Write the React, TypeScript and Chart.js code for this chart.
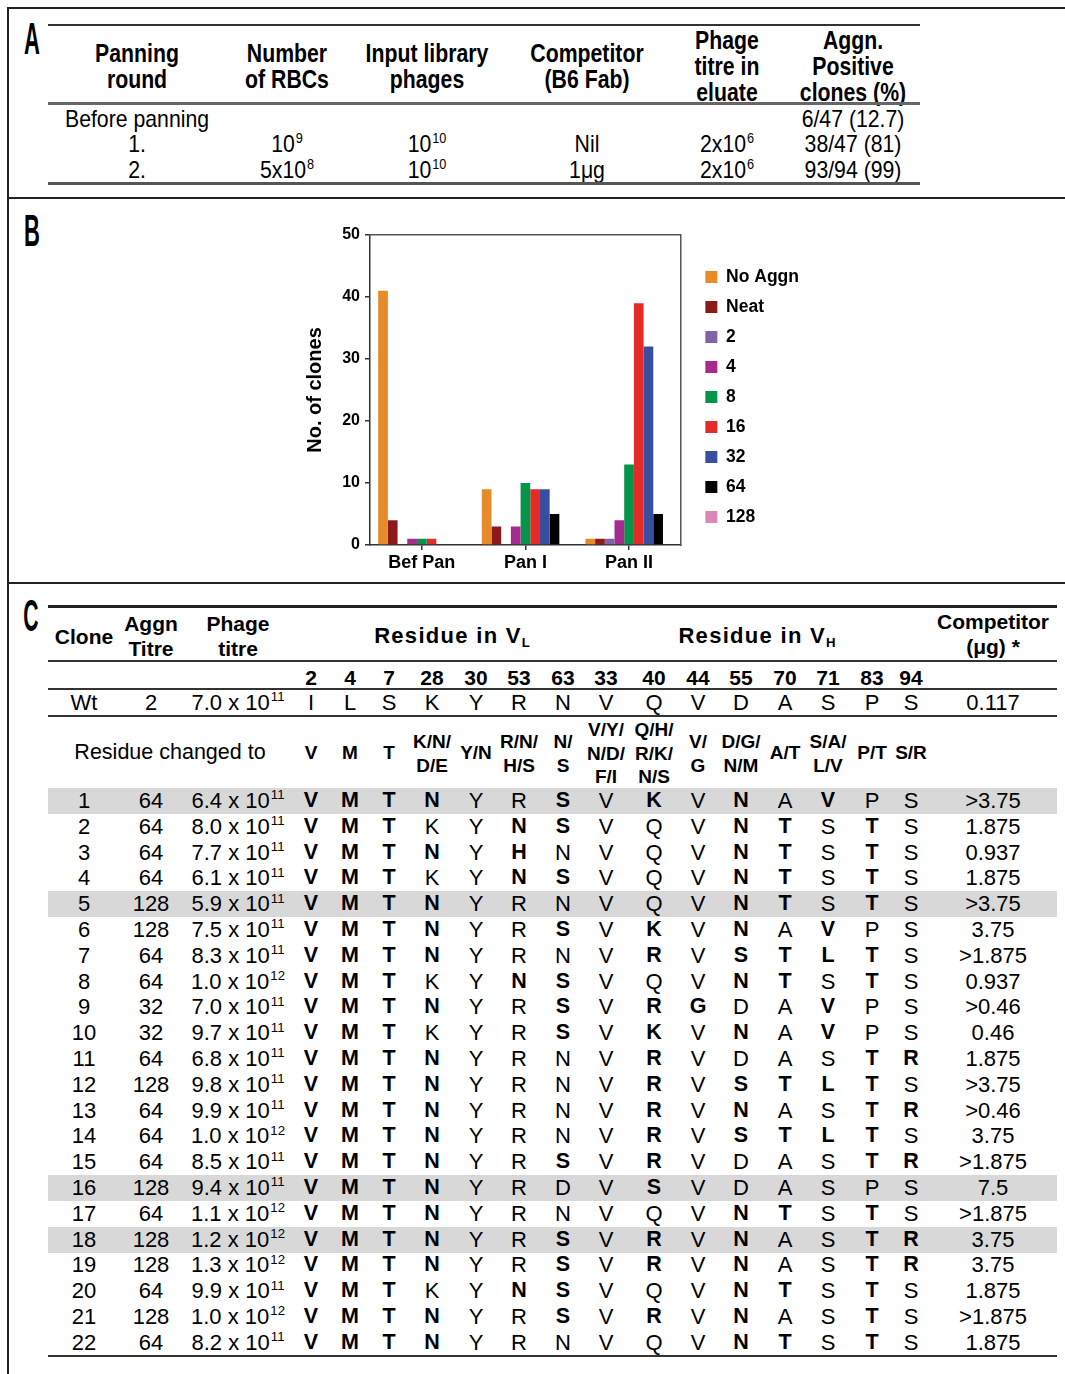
import React, { useEffect, useRef } from 'react';
import { Chart, registerables } from 'chart.js';

Chart.register(...registerables);

const SANS = "'Liberation Sans', Arial, Helvetica, sans-serif";

// ---------------- Panel A data ----------------
const tableAHeaders = [
  ['Panning', 'round'],
  ['Number', 'of RBCs'],
  ['Input library', 'phages'],
  ['Competitor', '(B6 Fab)'],
  ['Phage', 'titre in', 'eluate'],
  ['Aggn.', 'Positive', 'clones (%)'],
];
const panningRounds = ['Before panning', '1.', '2.'];
const rbcBase = ['', '10', '5x10'];
const rbcExp = ['', '9', '8'];
const inputBase = ['', '10', '10'];
const inputExp = ['', '10', '10'];
const competitorFab = ['', 'Nil', '1\u03bcg'];
const eluateBase = ['', '2x10', '2x10'];
const eluateExp = ['', '6', '6'];
const positiveClones = ['6/47 (12.7)', '38/47 (81)', '93/94 (99)'];

// ---------------- Panel B data ----------------
const groups = ['Bef Pan', 'Pan I', 'Pan II'];
const seriesNames = ['No Aggn', 'Neat', '2', '4', '8', '16', '32', '64', '128'];
const noAggn = [41, 9, 1];
const neat = [4, 3, 1];
const titre2 = [0, 0, 1];
const titre4 = [1, 3, 4];
const titre8 = [1, 10, 13];
const titre16 = [1, 9, 39];
const titre32 = [0, 9, 32];
const titre64 = [0, 5, 5];
const titre128 = [0, 0, 0];
const yTicks = [0, 10, 20, 30, 40, 50];
const seriesValues = [noAggn, neat, titre2, titre4, titre8, titre16, titre32, titre64, titre128];
const seriesColors = ['#E68A2A', '#8B1A1C', '#8063A9', '#A52B8F', '#05944A', '#E42B28', '#3A4EA1', '#000000', '#DC86B9'];

// ---------------- Panel C data ----------------
const vlPositions = ['2', '4', '7', '28', '30', '53', '63'];
const vhPositions = ['33', '40', '44', '55', '70', '71', '83', '94'];
const wtResidues = 'ILSKYRNVQVDASPS';
const wtTitre = '2';
const wtPhageMant = '7.0';
const wtPhageExp = '11';
const wtCompetitor = '0.117';
const changedTo = ['V', 'M', 'T', 'K/N/\nD/E', 'Y/N', 'R/N/\nH/S', 'N/\nS', 'V/Y/\nN/D/\nF/I', 'Q/H/\nR/K/\nN/S', 'V/\nG', 'D/G/\nN/M', 'A/T', 'S/A/\nL/V', 'P/T', 'S/R'];
const cloneIds = ['1', '2', '3', '4', '5', '6', '7', '8', '9', '10', '11', '12', '13', '14', '15', '16', '17', '18', '19', '20', '21', '22'];
const aggnTitre = ['64', '64', '64', '64', '128', '128', '64', '64', '32', '32', '64', '128', '64', '64', '64', '128', '64', '128', '128', '64', '128', '64'];
const phageMant = ['6.4', '8.0', '7.7', '6.1', '5.9', '7.5', '8.3', '1.0', '7.0', '9.7', '6.8', '9.8', '9.9', '1.0', '8.5', '9.4', '1.1', '1.2', '1.3', '9.9', '1.0', '8.2'];
const phageExp = ['11', '11', '11', '11', '11', '11', '11', '12', '11', '11', '11', '11', '11', '12', '11', '11', '12', '12', '12', '11', '12', '11'];
const cloneResidues = [
  'VMTNYRSVKVNAVPS',
  'VMTKYNSVQVNTSTS',
  'VMTNYHNVQVNTSTS',
  'VMTKYNSVQVNTSTS',
  'VMTNYRNVQVNTSTS',
  'VMTNYRSVKVNAVPS',
  'VMTNYRNVRVSTLTS',
  'VMTKYNSVQVNTSTS',
  'VMTNYRSVRGDAVPS',
  'VMTKYRSVKVNAVPS',
  'VMTNYRNVRVDASTR',
  'VMTNYRNVRVSTLTS',
  'VMTNYRNVRVNASTR',
  'VMTNYRNVRVSTLTS',
  'VMTNYRSVRVDASTR',
  'VMTNYRDVSVDASPS',
  'VMTNYRNVQVNTSTS',
  'VMTNYRSVRVNASTR',
  'VMTNYRSVRVNASTR',
  'VMTKYNSVQVNTSTS',
  'VMTNYRSVRVNASTS',
  'VMTNYRNVQVNTSTS',
];
const competitorUg = ['>3.75', '1.875', '0.937', '1.875', '>3.75', '3.75', '>1.875', '0.937', '>0.46', '0.46', '1.875', '>3.75', '>0.46', '3.75', '>1.875', '7.5', '>1.875', '3.75', '3.75', '1.875', '>1.875', '1.875'];
const highlightedClones = ['1', '5', '16', '18'];
const regularChanged = [[15, 6]]; // clone 16, residue 63 printed in regular weight

// ---------------- layout (positions only) ----------------
const aColX = [137, 287, 427, 587, 727, 853];
const aRowY = [119, 144, 170];
const cColX = [311, 350, 389, 432, 476, 519, 563, 606, 654, 698, 741, 785, 828, 872, 911];
const cRow0 = 801;
const cStep = 25.8;
const HEAD_SX = 0.85;
const HEAD_FONT = 25;
const BODY_SX = 0.885;
const BODY_FONT = 24;

const T = ({ x, y, children, s = 22, b = false, f = SANS, lh, sx, style }: any) => (
  <div
    style={{
      position: 'absolute',
      left: x,
      top: y,
      transform: `translate(-50%,-50%)${sx ? ` scaleX(${sx})` : ''}`,
      fontFamily: f,
      fontSize: s,
      fontWeight: b ? 700 : 400,
      lineHeight: lh ? `${lh}px` : 1,
      whiteSpace: 'pre',
      textAlign: 'center',
      color: '#000',
      ...style,
    }}
  >
    {children}
  </div>
);

const Sup = ({ children }: any) => (
  <span style={{ fontSize: '0.6em', position: 'relative', top: '-0.65em', marginLeft: 1 }}>{children}</span>
);

const Line = ({ x, y, w, h = 2, c = '#333' }: any) => (
  <div style={{ position: 'absolute', left: x, top: y, width: w, height: h, background: c }} />
);

const pow = (base: string, exp: string) => (base ? <>{base}<Sup>{exp}</Sup></> : null);

function ClonesChart() {
  const ref = useRef<HTMLCanvasElement>(null);
  const measure = document.createElement('canvas').getContext('2d')!;
  measure.font = `bold 17.5px ${SANS}`;
  const textW = Math.max(...seriesNames.map((n) => measure.measureText(n).width));
  const legendW = 13 + 12 + 8.75 + textW + 10;
  const W = Math.round(402 + legendW);
  const H = 364;

  useEffect(() => {
    Chart.defaults.font.family = SANS;
    Chart.defaults.color = '#000';
    const chart = new Chart(ref.current!, {
      type: 'bar',
      data: {
        labels: groups,
        datasets: seriesValues.map((d, i) => ({
          label: seriesNames[i],
          data: d,
          backgroundColor: seriesColors[i],
          borderWidth: 0,
          categoryPercentage: 0.842,
          barPercentage: 1,
        })),
      },
      options: {
        responsive: false,
        animation: false,
        devicePixelRatio: 1,
        layout: { padding: 0 },
        plugins: {
          legend: {
            position: 'right',
            align: 'center',
            maxWidth: 300,
            labels: {
              boxWidth: 12,
              boxHeight: 12,
              padding: 12.5,
              color: '#000',
              font: { size: 17.5, weight: 'bold' },
            },
          },
          tooltip: { enabled: false },
        },
        scales: {
          x: {
            position: 'bottom',
            grid: { display: true, drawOnChartArea: false, offset: false, tickLength: 5, color: '#333', lineWidth: 1.5 },
            border: { display: true, color: '#333', width: 1.5 },
            ticks: { font: { size: 18, weight: 'bold' }, color: '#000', padding: 2, maxRotation: 0 },
            afterFit: (s: any) => { s.height = 34; },
          },
          y: {
            min: 0,
            max: 50,
            afterBuildTicks: (s: any) => { s.ticks = yTicks.map((v) => ({ value: v })); },
            ticks: { font: { size: 16, weight: 'bold' }, color: '#000', padding: 5 },
            grid: { display: true, drawOnChartArea: false, tickLength: 5, color: '#333', lineWidth: 1.5 },
            border: { display: true, color: '#333', width: 1.5 },
            title: { display: true, text: 'No. of clones', font: { size: 20, weight: 'bold' }, color: '#000', padding: { top: 13, bottom: 0 } },
            afterFit: (s: any) => { s.width = 80; },
          },
          x2: {
            type: 'category',
            labels: groups,
            position: 'top',
            grid: { display: false },
            ticks: { display: false },
            border: { display: true, color: '#555', width: 1.5 },
            afterFit: (s: any) => { s.height = 20; },
          },
          y2: {
            type: 'linear',
            position: 'right',
            grid: { display: false },
            ticks: { display: false },
            border: { display: true, color: '#555', width: 1.5 },
            afterFit: (s: any) => { s.width = 12; },
          },
        },
      } as any,
    });
    return () => chart.destroy();
  }, []);

  return (
    <canvas
      ref={ref}
      width={W}
      height={H}
      style={{ position: 'absolute', left: 290, top: 215, width: W, height: H }}
    />
  );
}

function PanelA() {
  return (
    <>
      <T x={32} y={39} s={44} b sx={0.5}>A</T>
      <Line x={48} y={24} w={872} h={1.5} c="#333" />
      {tableAHeaders.map((lines, i) => {
        const ys = lines.length === 2 ? [53, 79] : [40, 66, 92];
        return lines.map((t, j) => (
          <T key={`h${i}-${j}`} x={aColX[i]} y={ys[j]} s={HEAD_FONT} b sx={HEAD_SX}>{t}</T>
        ));
      })}
      <Line x={48} y={102} w={872} h={2.5} c="#666" />
      {panningRounds.map((r, i) => (
        <React.Fragment key={`a${i}`}>
          <T x={aColX[0]} y={aRowY[i]} s={BODY_FONT} sx={BODY_SX}>{r}</T>
          <T x={aColX[1]} y={aRowY[i]} s={BODY_FONT} sx={BODY_SX}>{pow(rbcBase[i], rbcExp[i])}</T>
          <T x={aColX[2]} y={aRowY[i]} s={BODY_FONT} sx={BODY_SX}>{pow(inputBase[i], inputExp[i])}</T>
          <T x={aColX[3]} y={aRowY[i]} s={BODY_FONT} sx={BODY_SX}>{competitorFab[i]}</T>
          <T x={aColX[4]} y={aRowY[i]} s={BODY_FONT} sx={BODY_SX}>{pow(eluateBase[i], eluateExp[i])}</T>
          <T x={aColX[5]} y={aRowY[i]} s={BODY_FONT} sx={BODY_SX}>{positiveClones[i]}</T>
        </React.Fragment>
      ))}
      <Line x={48} y={182} w={872} h={2.5} c="#555" />
    </>
  );
}

function PanelC() {
  const isBold = (row: number, col: number) => {
    const r = cloneResidues[row][col];
    if (r === wtResidues[col]) return false;
    return !regularChanged.some(([a, b]) => a === row && b === col);
  };
  return (
    <>
      <T x={31} y={616} s={44} b sx={0.48}>C</T>
      <Line x={48} y={605} w={1009} h={3} c="#222" />
      {cloneIds.map((id, i) =>
        highlightedClones.includes(id) ? (
          <div key={`hl${i}`} style={{ position: 'absolute', left: 48, top: cRow0 + i * cStep - 13, width: 1009, height: 26, background: '#D8D8D8' }} />
        ) : null
      )}
      <T x={84} y={636} s={21} b>Clone</T>
      <T x={151} y={636} s={21} b lh={25}>{'Aggn\nTitre'}</T>
      <T x={238} y={636} s={21} b lh={25}>{'Phage\ntitre'}</T>
      <T x={452} y={636} s={22} b style={{ letterSpacing: 1.3 }}>
        Residue in V<span style={{ fontSize: '0.6em', position: 'relative', top: '0.3em', letterSpacing: 0 }}>L</span>
      </T>
      <T x={757} y={636} s={22} b style={{ letterSpacing: 1.3 }}>
        Residue in V<span style={{ fontSize: '0.6em', position: 'relative', top: '0.3em', letterSpacing: 0 }}>H</span>
      </T>
      <T x={993} y={634} s={21} b lh={25}>{'Competitor\n(\u03bcg) *'}</T>
      <Line x={48} y={660} w={1009} h={2} c="#333" />
      {[...vlPositions, ...vhPositions].map((p, i) => (
        <T key={`p${i}`} x={cColX[i]} y={677} s={21} b>{p}</T>
      ))}
      <Line x={48} y={688} w={1009} h={2} c="#333" />
      <T x={84} y={703} s={22}>Wt</T>
      <T x={151} y={703} s={22}>{wtTitre}</T>
      <T x={238} y={703} s={22}>{pow(wtPhageMant + ' x 10', wtPhageExp)}</T>
      {wtResidues.split('').map((r, i) => (
        <T key={`w${i}`} x={cColX[i]} y={703} s={22}>{r}</T>
      ))}
      <T x={993} y={703} s={22}>{wtCompetitor}</T>
      <Line x={48} y={715} w={1009} h={2} c="#333" />
      <T x={170} y={753} s={21.5}>Residue changed to</T>
      {changedTo.map((c, i) => (
        <T key={`c${i}`} x={cColX[i]} y={753} s={19} b lh={23.5}>{c}</T>
      ))}
      {cloneIds.map((id, i) => {
        const y = cRow0 + i * cStep;
        return (
          <React.Fragment key={`r${i}`}>
            <T x={84} y={y} s={22}>{id}</T>
            <T x={151} y={y} s={22}>{aggnTitre[i]}</T>
            <T x={238} y={y} s={22}>{pow(phageMant[i] + ' x 10', phageExp[i])}</T>
            {cloneResidues[i].split('').map((r, j) => (
              <T key={`r${i}-${j}`} x={cColX[j]} y={y} s={isBold(i, j) ? 21.5 : 22} b={isBold(i, j)}>{r}</T>
            ))}
            <T x={993} y={y} s={22}>{competitorUg[i]}</T>
          </React.Fragment>
        );
      })}
      <Line x={48} y={1355} w={1009} h={2} c="#333" />
    </>
  );
}

export default function App() {
  useEffect(() => {
    document.body.style.overflow = 'hidden';
  }, []);
  return (
    <div style={{ position: 'absolute', left: 0, top: 0, width: 1065, height: 1374, overflow: 'hidden', background: '#fff' }}>
      {/* figure frame */}
      <Line x={7} y={7} w={2} h={1367} c="#222" />
      <Line x={7} y={7} w={1058} h={2} c="#222" />
      <Line x={7} y={197} w={1058} h={2} c="#222" />
      <Line x={7} y={582} w={1058} h={2} c="#222" />
      <PanelA />
      <T x={32} y={231} s={44} b sx={0.5}>B</T>
      <ClonesChart />
      <PanelC />
    </div>
  );
}
